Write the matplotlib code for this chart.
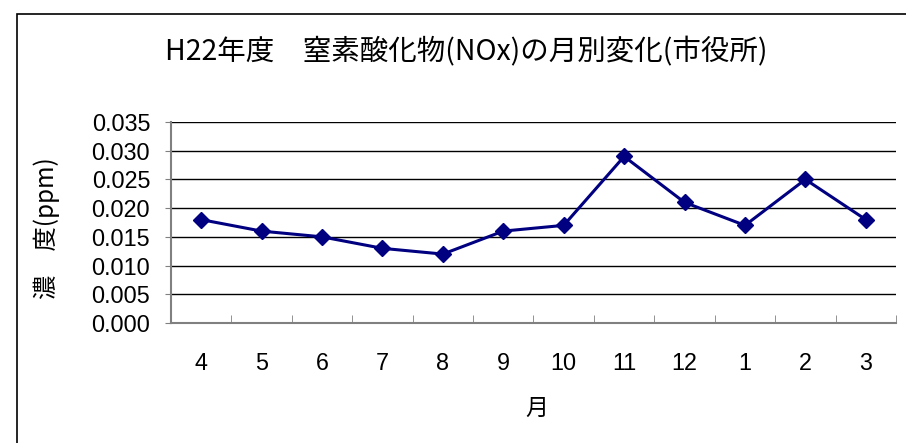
import matplotlib.pyplot as plt
from matplotlib.patches import Rectangle
from matplotlib.ticker import FixedLocator

months = ['4', '5', '6', '7', '8', '9', '10', '11', '12', '1', '2', '3']
nox = [0.018, 0.016, 0.015, 0.013, 0.012, 0.016, 0.017, 0.029, 0.021, 0.017, 0.025, 0.018]
yticks = [0.000, 0.005, 0.010, 0.015, 0.020, 0.025, 0.030, 0.035]

fonts = ['Liberation Sans', 'Noto Sans CJK JP', 'DejaVu Sans']
plt.rcParams['font.family'] = fonts
cjk = ['Noto Sans CJK JP', 'DejaVu Sans']

fig = plt.figure(figsize=(9.06, 4.43), dpi=100)
ax = fig.add_axes([0.1887, 0.2709, 0.8003, 0.4537])

# chart border
fig.patches.append(Rectangle((17 / 906, -0.1), 1.2, 1 - 14 / 443 + 0.1,
                             transform=fig.transFigure, fill=False,
                             edgecolor='black', linewidth=1.2))

x = list(range(len(months)))
ax.plot(x, nox, color='#000080', linewidth=2.2, marker='D', markersize=8.5,
        markerfacecolor='#000080', markeredgecolor='#000080', zorder=3)

ax.set_xlim(-0.5, len(months) - 0.5)
ax.set_ylim(0, 0.035)
ax.set_yticks(yticks)
ax.set_yticklabels(['%.3f' % v for v in yticks])
ax.yaxis.grid(True, color='black', linewidth=1)
ax.set_axisbelow(True)

ax.set_xticks(x)
ax.set_xticklabels(months)
ax.xaxis.set_minor_locator(FixedLocator([i + 0.5 for i in x]))
ax.tick_params(axis='x', which='major', length=0, pad=21, labelsize=16.8)
ax.tick_params(axis='x', which='minor', direction='in', length=6, color='#808080')
ax.tick_params(axis='y', direction='out', length=4, color='#808080', pad=11, labelsize=16.8)

for s in ['top', 'right']:
    ax.spines[s].set_visible(False)
for s in ['left', 'bottom']:
    ax.spines[s].set_color('#808080')
    ax.spines[s].set_linewidth(1.5)

fig.text(466 / 906, 1 - 52 / 443, 'H22年度　窒素酸化物(NOx)の月別変化(市役所)',
         ha='center', va='center', fontsize=20.5, family=cjk)
fig.text(47 / 906, 1 - 228 / 443, '濃　度(ppm)', rotation=90, ha='center', va='center',
         fontsize=17.5, family=cjk)
fig.text(537 / 906, 1 - 408 / 443, '月', ha='center', va='center', fontsize=16.5,
         family=cjk)

fig.savefig('out.png', dpi=100)
